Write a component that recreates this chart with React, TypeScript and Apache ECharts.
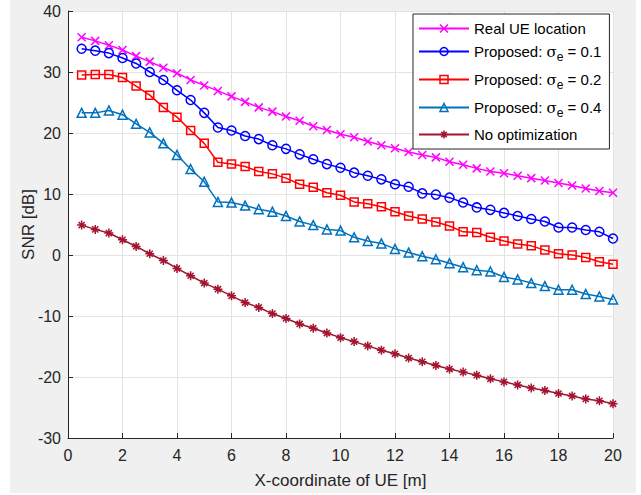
import React, { useEffect, useRef } from "react";
import * as echarts from "echarts";

const xCoords = [
  0.5, 1, 1.5, 2, 2.5, 3, 3.5, 4, 4.5, 5, 5.5, 6, 6.5, 7, 7.5, 8, 8.5, 9, 9.5, 10,
  10.5, 11, 11.5, 12, 12.5, 13, 13.5, 14, 14.5, 15, 15.5, 16, 16.5, 17, 17.5, 18, 18.5, 19, 19.5, 20,
];

const realUE = [
  35.7, 35.1, 34.4, 33.6, 32.6, 31.7, 30.7, 29.8, 28.7, 27.8, 26.9, 26.0, 25.1, 24.2, 23.5, 22.7, 22.0, 21.1, 20.5, 19.8,
  19.3, 18.6, 18.0, 17.5, 16.9, 16.4, 16.0, 15.3, 14.8, 14.2, 13.7, 13.4, 13.0, 12.6, 12.2, 11.8, 11.4, 10.9, 10.5, 10.2,
];

const sigma01 = [
  33.8, 33.5, 33.1, 32.3, 31.4, 30.0, 28.7, 27.0, 25.4, 23.3, 20.9, 20.4, 19.5, 19.0, 18.0, 17.4, 16.5, 15.7, 14.9, 14.3,
  13.5, 13.0, 12.4, 11.6, 11.2, 10.1, 9.9, 9.4, 8.6, 7.8, 7.4, 6.9, 6.4, 5.9, 5.5, 4.5, 4.5, 4.1, 3.8, 2.7,
];

const sigma02 = [
  29.5, 29.6, 29.6, 29.1, 27.7, 26.2, 24.2, 22.6, 20.4, 18.3, 15.2, 14.9, 14.5, 13.7, 13.3, 12.6, 11.6, 11.1, 10.2, 9.8,
  8.7, 8.4, 7.9, 7.1, 6.4, 5.9, 5.4, 4.75, 3.8, 3.7, 2.9, 2.3, 1.8, 1.5, 0.8, 0.2, 0.0, -0.4, -1.1, -1.5,
];

const sigma04 = [
  23.3, 23.3, 23.7, 23.0, 21.5, 20.1, 18.3, 16.4, 14.1, 12.0, 8.7, 8.6, 8.1, 7.5, 7.1, 6.4, 5.5, 4.9, 4.2, 4.0,
  2.9, 2.3, 1.9, 1.0, 0.4, -0.2, -0.7, -1.35, -2.0, -2.5, -2.7, -3.6, -4.0, -4.6, -5.1, -5.7, -5.7, -6.4, -6.8, -7.3,
];

const noOpt = [
  4.9, 4.2, 3.6, 2.5, 1.4, 0.2, -0.9, -2.2, -3.4, -4.6, -5.6, -6.7, -7.8, -8.6, -9.6, -10.4, -11.3, -12.0, -12.8, -13.55,
  -14.2, -14.9, -15.6, -16.2, -16.9, -17.5, -18.1, -18.7, -19.2, -19.7, -20.3, -20.8, -21.3, -21.8, -22.2, -22.7, -23.1, -23.6, -23.9, -24.4,
];

const seriesNames = [
  "Real UE location",
  "Proposed: σe = 0.1",
  "Proposed: σe = 0.2",
  "Proposed: σe = 0.4",
  "No optimization",
];

const FONT = "'Liberation Sans', Arial, Helvetica, sans-serif";
const TXT = "#262626";

const X_PATH = "path://M0,0L10,10M10,0L0,10";
const STAR_PATH = "path://M5,0L5,10M0,5L10,5M1.6,1.6L8.4,8.4M8.4,1.6L1.6,8.4";

export default function App() {
  const ref = useRef<HTMLDivElement>(null);

  useEffect(() => {
    if (!ref.current) return;
    const chart = echarts.init(ref.current, null, { renderer: "svg" });

    const pairs = (ys: number[]) => xCoords.map((x, i) => [x, ys[i]]);

    const mk = (
      name: string,
      ys: number[],
      color: string,
      symbol: string,
      symbolSize: number
    ) => ({
      name,
      type: "line",
      data: pairs(ys),
      symbol,
      symbolSize,
      showSymbol: true,
      lineStyle: { width: 1.5, color },
      itemStyle: { color: "transparent", borderColor: color, borderWidth: 1.5 },
      emphasis: { disabled: true },
      silent: true,
    });

    const lineHeights = [15, 25, 25, 25, 23];
    const legendData = seriesNames.map((n, i) => ({
      name: n,
      textStyle: { lineHeight: lineHeights[i], height: lineHeights[i] },
    }));

    const option: any = {
      animation: false,
      backgroundColor: "#ffffff",
      textStyle: { fontFamily: FONT },
      graphic: [
        {
          type: "rect",
          z: -10,
          silent: true,
          shape: { x: 10, y: 0, width: 626, height: 493 },
          style: { fill: "#f0f0f0" },
        },
      ],
      grid: {
        left: 68,
        right: 28,
        top: 11,
        bottom: 57,
        show: true,
        backgroundColor: "#ffffff",
        borderWidth: 0,
      },
      legend: {
        orient: "vertical",
        left: 413,
        top: 14,
        itemWidth: 50,
        itemHeight: 10,
        itemGap: 3,
        padding: [7, 8, 3, 5],
        backgroundColor: "#ffffff",
        borderColor: TXT,
        borderWidth: 1,
        borderRadius: 0,
        data: legendData,
        itemStyle: { borderWidth: 1.5 },
        textStyle: {
          fontFamily: FONT,
          color: "#000",
          fontSize: 15,
          rich: {
            p1: { fontFamily: FONT, fontSize: 15, lineHeight: 15, height: 15, color: "#000" },
            p5: { fontFamily: FONT, fontSize: 15, lineHeight: 23, height: 23, color: "#000" },
            m: { fontFamily: FONT, fontSize: 15, lineHeight: 25, height: 25, color: "#000" },
            s: { fontFamily: "'DejaVu Serif', serif", fontSize: 15, lineHeight: 25, height: 25, color: "#000" },
            sub: {
              fontFamily: FONT,
              fontSize: 12,
              lineHeight: 25,
              padding: [11, 0, 0, 0],
              color: "#000",
            },
          },
        },
        formatter: (name: string) => {
          if (name.startsWith("Proposed")) {
            const v = name.split("= ")[1];
            return `{m|Proposed: }{s|σ}{sub|e}{m| = ${v}}`;
          }
          return name === seriesNames[0] ? `{p1|${name}}` : `{p5|${name}}`;
        },
      },
      xAxis: {
        type: "value",
        min: 0,
        max: 20,
        interval: 2,
        name: "X-coordinate of UE [m]",
        nameLocation: "middle",
        nameGap: 34,
        nameMoveOverlap: false,
        nameTextStyle: { fontFamily: FONT, fontSize: 17, color: TXT },
        axisLine: { show: true, onZero: false, lineStyle: { color: TXT, width: 1 } },
        axisTick: { show: true, inside: true, length: 5, lineStyle: { color: TXT } },
        axisLabel: { fontFamily: FONT, fontSize: 16, color: TXT, margin: 9 },
        splitLine: { show: true, lineStyle: { color: "#e3e3e3", width: 1 } },
      },
      yAxis: {
        type: "value",
        min: -30,
        max: 40,
        interval: 10,
        name: "SNR [dB]",
        nameLocation: "middle",
        nameGap: 31,
        nameRotate: 90,
        nameMoveOverlap: false,
        nameTextStyle: { fontFamily: FONT, fontSize: 17, color: TXT },
        axisLine: { show: true, onZero: false, lineStyle: { color: TXT, width: 1 } },
        axisTick: { show: true, inside: true, length: 5, lineStyle: { color: TXT } },
        axisLabel: { fontFamily: FONT, fontSize: 16, color: TXT, margin: 7 },
        splitLine: { show: true, lineStyle: { color: "#e3e3e3", width: 1 } },
      },
      series: [
        mk(seriesNames[0], realUE, "#ff00ff", X_PATH, 8),
        mk(seriesNames[1], sigma01, "#0000ff", "circle", 9),
        mk(seriesNames[2], sigma02, "#ff0000", "rect", 8),
        mk(seriesNames[3], sigma04, "#0072bd", "triangle", 9),
        mk(seriesNames[4], noOpt, "#a2142f", STAR_PATH, 9),
      ],
    };

    chart.setOption(option);
    return () => chart.dispose();
  }, []);

  return (
    <div
      ref={ref}
      style={{ position: "absolute", left: 0, top: 0, width: 641, height: 495 }}
    />
  );
}
